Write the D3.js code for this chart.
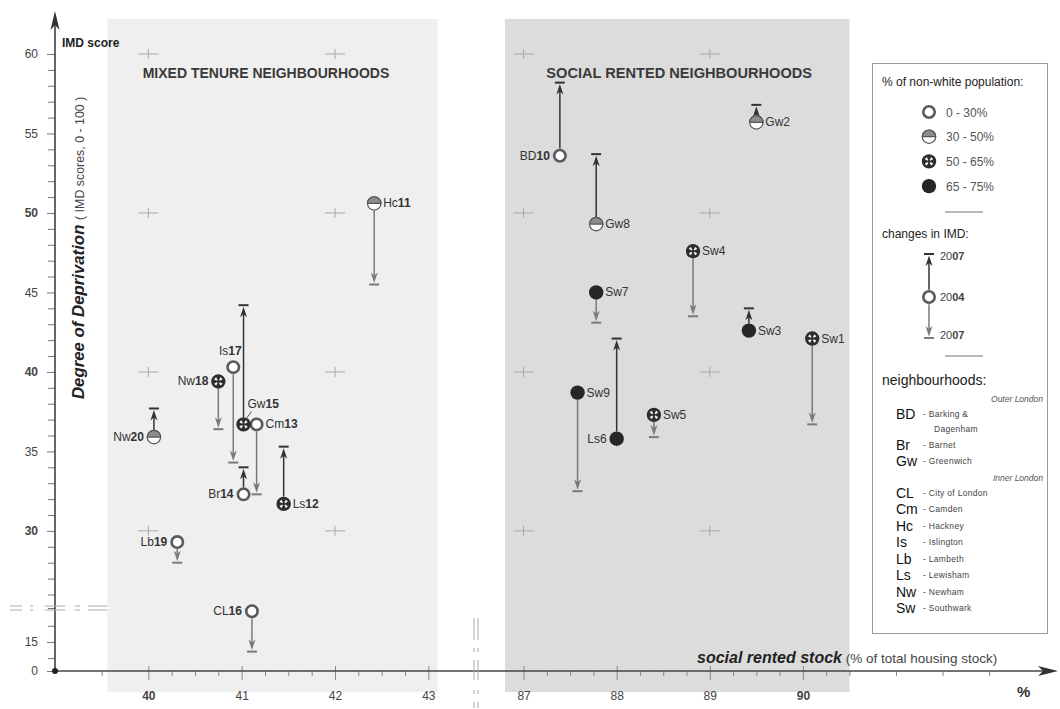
<!DOCTYPE html>
<html>
<head>
<meta charset="utf-8">
<script src="https://cdn.jsdelivr.net/npm/d3@7/dist/d3.min.js"></script>
<style>
  body { margin: 0; background: #fff; }
  svg { display: block; font-family: "Liberation Sans", Arial, sans-serif; }
</style>
</head>
<body>
<div id="visualization"></div>
<script>
// neighbourhoods, share of social rented stock, IMD score 2004 -> 2007
const names = ["Sw1", "Gw2", "Sw3", "Sw4", "Sw5", "Ls6", "Sw7", "Gw8", "Sw9", "BD10",
  "Hc11", "Ls12", "Cm13", "Br14", "Gw15", "CL16", "Is17", "Nw18", "Lb19", "Nw20"];
const socialRented = [90.10, 89.50, 89.42, 88.82, 88.40, 88.00, 87.78, 87.78, 87.58, 87.39,
  42.42, 41.45, 41.16, 41.02, 41.02, 41.11, 40.91, 40.75, 40.31, 40.06];
const imd2004 = [42.1, 55.7, 42.6, 47.6, 37.3, 35.8, 45.0, 49.3, 38.7, 53.6,
  50.6, 31.7, 36.7, 32.3, 36.7, 16.9, 40.3, 39.4, 29.3, 35.9];
const imd2007 = [36.7, 56.8, 44.0, 43.5, 35.9, 42.1, 43.1, 53.7, 32.5, 58.2,
  45.5, 35.3, 32.3, 34.0, 44.2, 14.4, 34.3, 36.4, 28.0, 37.7];
// 0: 0-30%, 1: 30-50%, 2: 50-65%, 3: 65-75% non-white population
const nonWhiteBand = [2, 1, 3, 2, 2, 3, 3, 1, 3, 0,
  1, 2, 0, 0, 2, 0, 0, 2, 0, 1];

const bandLabels = ["0 - 30%", "30 - 50%", "50 - 65%", "65 - 75%"];
const yMajorTicks = [0, 15, 30, 35, 40, 45, 50, 55, 60];
const yBoldTicks = [50, 40, 30];
const xMajorTicks = [40, 41, 42, 43, 87, 88, 89, 90];
const xBoldTicks = [40, 90];
const gridX = [40, 42, 87, 89];
const gridY = [30, 40, 50, 60];

const boroughCodes = ["BD", "Br", "Gw", "CL", "Cm", "Hc", "Is", "Lb", "Ls", "Nw", "Sw"];
const boroughNames = ["Barking &", "Barnet", "Greenwich", "City of London", "Camden", "Hackney",
  "Islington", "Lambeth", "Lewisham", "Newham", "Southwark"];
const boroughGroups = ["Outer London", "Outer London", "Outer London", "Inner London", "Inner London",
  "Inner London", "Inner London", "Inner London", "Inner London", "Inner London", "Inner London"];

// where each point label sits
const labelPlacement = {
  Nw20: "left", Lb19: "left", CL16: "left", Nw18: "left", Br14: "left",
  BD10: "left", Ls6: "left", Is17: "top", Gw15: "leader"
};

let w = 1060, h = 709;

let svg = d3.select("#visualization")
  .append("svg")
  .attr("width", w)
  .attr("height", h);

// broken axes: piecewise linear scales
let x = d3.scaleLinear()
  .domain([39, 43.5, 86.5, 92.6])
  .range([55, 475, 477, 1045]);

let y = d3.scaleLinear()
  .domain([0, 13.2, 17.1, 25.15, 60])
  .range([671, 671, 608, 608, 54]);

const axisY = 671, axisX = 55;

// panel backgrounds
svg.append("rect")
  .attr("x", x(39.56)).attr("y", 19)
  .attr("width", x(43.1) - x(39.56)).attr("height", 673)
  .attr("fill", "#efefef");
svg.append("rect")
  .attr("x", x(86.8)).attr("y", 19)
  .attr("width", x(90.5) - x(86.8)).attr("height", 673)
  .attr("fill", "#dcdcdc");

// grid crosses
gridX.forEach(gx => gridY.forEach(gy => {
  svg.append("path")
    .attr("d", `M${x(gx) - 10},${y(gy)}H${x(gx) + 10}M${x(gx)},${y(gy) - 5}V${y(gy) + 5}`)
    .attr("stroke", "#a8a8a8").attr("stroke-width", 1).attr("fill", "none");
}));

// panel titles
svg.append("text")
  .attr("x", 266).attr("y", 78)
  .attr("text-anchor", "middle")
  .attr("font-size", 14).attr("font-weight", "bold").attr("fill", "#3a3a3a")
  .text("MIXED TENURE NEIGHBOURHOODS");
svg.append("text")
  .attr("x", (x(86.8) + x(90.5)) / 2 + 2).attr("y", 78)
  .attr("text-anchor", "middle")
  .attr("font-size", 14.6).attr("font-weight", "bold").attr("fill", "#3a3a3a")
  .text("SOCIAL RENTED NEIGHBOURHOODS");

// y axis ticks
let yMinor = d3.range(14, 17).concat(d3.range(25, 61)).filter(v => !yMajorTicks.includes(v));
let yMinorAxis = svg.append("g")
  .attr("transform", `translate(${axisX},0)`)
  .call(d3.axisLeft(y).tickValues(yMinor).tickSize(7).tickFormat(""));
let yMajorAxis = svg.append("g")
  .attr("transform", `translate(${axisX},0)`)
  .call(d3.axisLeft(y).tickValues(yMajorTicks).tickSize(8).tickPadding(9).tickFormat(d3.format("d")));
[yMinorAxis, yMajorAxis].forEach(g => {
  g.select(".domain").remove();
  g.selectAll("line").attr("stroke", "#777");
});
yMajorAxis.selectAll("text")
  .attr("font-size", 12).attr("fill", "#444")
  .attr("font-family", "Liberation Sans, Arial, sans-serif")
  .attr("font-weight", d => yBoldTicks.includes(d) ? "bold" : "normal");

// x axis ticks
let xMinor = [39.5].concat(d3.range(40, 43.01, 0.25), d3.range(87, 90.51, 0.25), [91, 91.5, 92])
  .filter(v => !xMajorTicks.includes(v));
let xMinorAxis = svg.append("g")
  .attr("transform", `translate(0,${axisY})`)
  .call(d3.axisBottom(x).tickValues(xMinor).tickSize(5).tickFormat(""));
let xMajorAxis = svg.append("g")
  .attr("transform", `translate(0,${axisY})`)
  .call(d3.axisBottom(x).tickValues(xMajorTicks).tickSize(9).tickPadding(11).tickFormat(d3.format("d")));
[xMinorAxis, xMajorAxis].forEach(g => {
  g.select(".domain").remove();
  g.selectAll("line").attr("stroke", "#888");
});
xMajorAxis.selectAll("line").attr("y1", -5);
xMajorAxis.selectAll("text")
  .attr("font-size", 12).attr("fill", "#444")
  .attr("font-family", "Liberation Sans, Arial, sans-serif")
  .attr("font-weight", d => xBoldTicks.includes(d) ? "bold" : "normal");

// axis lines with arrow heads
svg.append("line")
  .attr("x1", axisX).attr("y1", axisY).attr("x2", axisX).attr("y2", 22)
  .attr("stroke", "#333").attr("stroke-width", 1.5);
svg.append("path")
  .attr("d", `M${axisX},11L${axisX - 4.5},30L${axisX},25L${axisX + 4.5},30Z`)
  .attr("fill", "#333");
svg.append("line")
  .attr("x1", axisX).attr("y1", axisY).attr("x2", 1045).attr("y2", axisY)
  .attr("stroke", "#444").attr("stroke-width", 1.5);
svg.append("path")
  .attr("d", `M1058,${axisY}L1038,${axisY - 5}L1043,${axisY}L1038,${axisY + 5}Z`)
  .attr("fill", "#333");
svg.append("circle")
  .attr("cx", axisX).attr("cy", axisY).attr("r", 3).attr("fill", "#222");

// axis breaks
[-2, 2].forEach(o => {
  svg.append("line")
    .attr("x1", 10).attr("x2", 107).attr("y1", 608 + o).attr("y2", 608 + o)
    .attr("stroke", "#aaa").attr("stroke-width", 1)
    .attr("stroke-dasharray", "12,8,3,12,20,10,5,8,22");
  svg.append("line")
    .attr("x1", 476 + o).attr("x2", 476 + o).attr("y1", 618).attr("y2", 708)
    .attr("stroke", "#aaa").attr("stroke-width", 1)
    .attr("stroke-dasharray", "22,8,4,8,20,10,4,8,20");
});

// axis titles
svg.append("text")
  .attr("x", 62).attr("y", 47)
  .attr("font-size", 12).attr("font-weight", "bold").attr("fill", "#222")
  .text("IMD score");

let yTitle = svg.append("text")
  .attr("transform", "translate(84,399) rotate(-90)")
  .attr("fill", "#222");
yTitle.append("tspan")
  .attr("font-size", 16.8).attr("font-weight", "bold").attr("font-style", "italic")
  .text("Degree of Deprivation ");
yTitle.append("tspan")
  .attr("font-size", 12.4).attr("fill", "#444")
  .text("( IMD scores, 0 - 100 )");

let xTitle = svg.append("text")
  .attr("x", 697).attr("y", 663)
  .attr("fill", "#222");
xTitle.append("tspan")
  .attr("font-size", 16).attr("font-weight", "bold").attr("font-style", "italic")
  .text("social rented stock");
xTitle.append("tspan")
  .attr("font-size", 13.5).attr("fill", "#444")
  .text(" (% of total housing stock)");

svg.append("text")
  .attr("x", 1017).attr("y", 697)
  .attr("font-size", 15).attr("font-weight", "bold").attr("fill", "#333")
  .text("%");

// markers
const r = 7.2;
function drawMarker(g, band) {
  if (band === 0) {
    g.append("circle").attr("r", r - 1.5)
      .attr("fill", "#fff").attr("stroke", "#5a5a5a").attr("stroke-width", 2.6);
  } else if (band === 1) {
    g.append("circle").attr("r", r - 0.5)
      .attr("fill", "#fff").attr("stroke", "#555").attr("stroke-width", 1.2);
    g.append("path")
      .attr("d", d3.arc()({ innerRadius: 0, outerRadius: r - 0.5, startAngle: -Math.PI / 2, endAngle: Math.PI / 2 }))
      .attr("fill", "#8c8c8c").attr("stroke", "#555").attr("stroke-width", 1.2);
  } else if (band === 2) {
    g.append("circle").attr("r", r).attr("fill", "#2e2e2e");
    d3.range(4).forEach(k => {
      let a = Math.PI / 4 + k * Math.PI / 2;
      g.append("path")
        .attr("d", d3.arc()({ innerRadius: 1.6, outerRadius: r - 2.6, startAngle: a - 0.32, endAngle: a + 0.32 }))
        .attr("fill", "#f4f4f4");
    });
  } else {
    g.append("circle").attr("r", r).attr("fill", "#262626");
  }
}

function drawArrow(g, x0, yStart, yEnd, startGap) {
  let up = yEnd < yStart;
  let dir = up ? 1 : -1;
  let col = up ? "#333" : "#7a7a7a";
  g.append("line")
    .attr("x1", x0).attr("x2", x0)
    .attr("y1", yStart - dir * startGap).attr("y2", yEnd + dir * 6)
    .attr("stroke", col).attr("stroke-width", 1.5);
  g.append("line")
    .attr("x1", x0 - 5).attr("x2", x0 + 5).attr("y1", yEnd).attr("y2", yEnd)
    .attr("stroke", col).attr("stroke-width", 2);
  g.append("path")
    .attr("d", `M${x0},${yEnd + dir * 1.5}L${x0 - 3.5},${yEnd + dir * 12}L${x0},${yEnd + dir * 9}L${x0 + 3.5},${yEnd + dir * 12}Z`)
    .attr("fill", col);
}

let arrows = svg.append("g");
names.forEach((n, i) => {
  drawArrow(arrows, x(socialRented[i]), y(imd2004[i]), y(imd2007[i]), r);
});

let points = svg.append("g")
  .selectAll("g")
  .data(names)
  .enter()
  .append("g")
  .attr("transform", (d, i) => `translate(${x(socialRented[i])},${y(imd2004[i])})`);
points.each(function (d, i) { drawMarker(d3.select(this), nonWhiteBand[i]); });

// point labels
points.each(function (d) {
  let g = d3.select(this);
  let code = d.match(/^[A-Za-z]+/)[0];
  let num = d.slice(code.length);
  let side = labelPlacement[d] || "right";
  let t = g.append("text").attr("font-size", 12).attr("fill", "#333");
  if (side === "left") t.attr("x", -10).attr("y", 4).attr("text-anchor", "end");
  else if (side === "top") t.attr("x", -3).attr("y", -12).attr("text-anchor", "middle");
  else if (side === "leader") {
    t.attr("x", 4).attr("y", -16);
    g.append("line").attr("x1", 3).attr("y1", -6).attr("x2", 8).attr("y2", -13)
      .attr("stroke", "#555").attr("stroke-width", 1);
  } else t.attr("x", 9).attr("y", 4);
  t.append("tspan").text(code);
  t.append("tspan").attr("font-weight", +num >= 10 ? "bold" : "normal").text(num);
});

// legend
let legend = svg.append("g");
legend.append("rect")
  .attr("x", 872.5).attr("y", 63.5).attr("width", 175).attr("height", 570)
  .attr("fill", "#fff").attr("stroke", "#9a9a9a");

legend.append("text")
  .attr("x", 882).attr("y", 86).attr("font-size", 12).attr("fill", "#222")
  .text("% of non-white population:");

bandLabels.forEach((lab, i) => {
  let cy = 112 + i * 24.7;
  let g = legend.append("g").attr("transform", `translate(929,${cy})`);
  drawMarker(g, i);
  legend.append("text")
    .attr("x", 946).attr("y", cy + 4.5).attr("font-size", 12).attr("fill", "#555")
    .text(lab);
});

legend.append("line").attr("x1", 945).attr("x2", 983).attr("y1", 212).attr("y2", 212)
  .attr("stroke", "#777");

legend.append("text")
  .attr("x", 882).attr("y", 238).attr("font-size", 12).attr("fill", "#222")
  .text("changes in IMD:");

drawArrow(legend, 929, 297, 254, r);
drawArrow(legend, 929, 297, 338, r);
drawMarker(legend.append("g").attr("transform", "translate(929,297)"), 0);
[["20", "07", 260], ["20", "04", 301], ["20", "07", 339]].forEach(([a, b, ty]) => {
  let t = legend.append("text").attr("x", 940).attr("y", ty).attr("font-size", 11).attr("fill", "#444");
  t.append("tspan").text(a);
  t.append("tspan").attr("font-weight", "bold").text(b);
});

legend.append("line").attr("x1", 945).attr("x2", 983).attr("y1", 356).attr("y2", 356)
  .attr("stroke", "#777");

legend.append("text")
  .attr("x", 882).attr("y", 385).attr("font-size", 14).attr("fill", "#222")
  .text("neighbourhoods:");

let ly = 399;
boroughCodes.forEach((code, i) => {
  if (i === 0 || boroughGroups[i] !== boroughGroups[i - 1]) {
    legend.append("text")
      .attr("x", 1043).attr("y", ly + 3).attr("text-anchor", "end")
      .attr("font-size", 8.5).attr("font-style", "italic").attr("fill", "#555")
      .text(boroughGroups[i]);
    ly += 15;
  }
  legend.append("text")
    .attr("x", 896).attr("y", ly + 5).attr("font-size", 14).attr("fill", "#111")
    .text(code);
  legend.append("text")
    .attr("x", 923).attr("y", ly + 3).attr("font-size", 8.5).attr("fill", "#444")
    .attr("letter-spacing", 0.3)
    .text("- " + boroughNames[i]);
  if (code === "BD") {
    legend.append("text")
      .attr("x", 934).attr("y", ly + 18).attr("font-size", 8.5).attr("fill", "#444")
      .attr("letter-spacing", 0.3)
      .text("Dagenham");
    ly += 14;
  }
  ly += 16.5;
});
</script>
</body>
</html>
